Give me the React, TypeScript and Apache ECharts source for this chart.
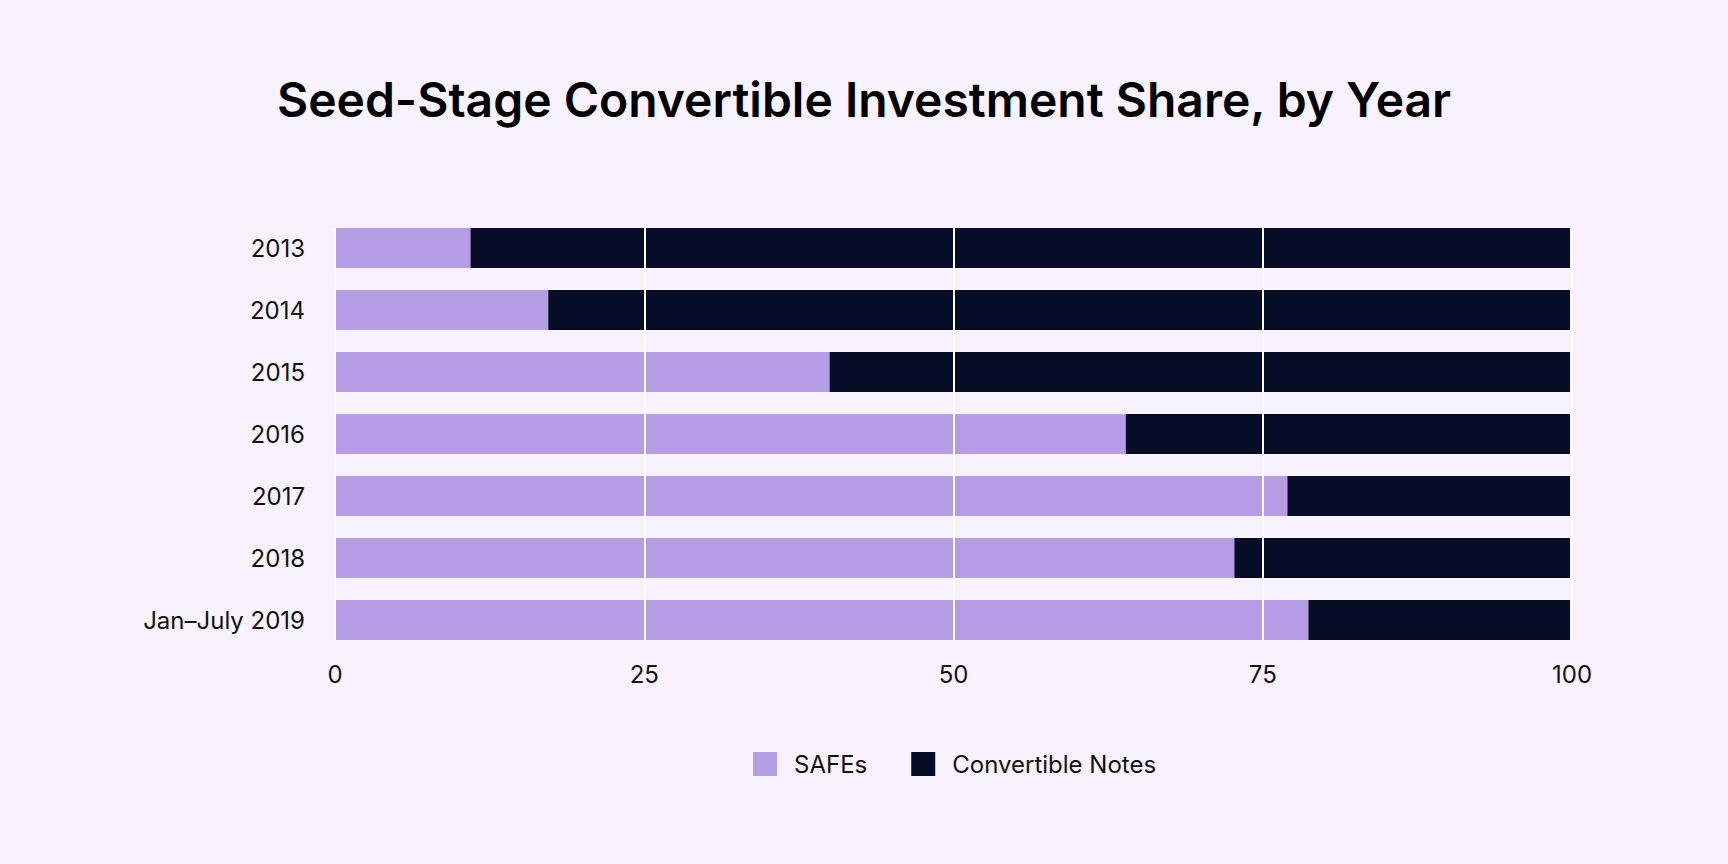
import React, { useEffect, useRef } from 'react';
import * as echarts from 'echarts';

const years = ['2013', '2014', '2015', '2016', '2017', '2018', 'Jan–July 2019'];
const safes = [10.9, 17.2, 40.0, 64.0, 77.1, 72.8, 78.8];
const notes = [89.1, 82.8, 60.0, 36.0, 22.9, 27.2, 21.2];
const seriesNames = ['SAFEs', 'Convertible Notes'];
const seriesColors = ['#b49de4', '#080d27'];

const FONT = 'Inter';
const BG = '#f7f2fe';

const App: React.FC = () => {
  const chartRef = useRef<HTMLDivElement>(null);

  useEffect(() => {
    document.body.style.margin = '0';
    if (!chartRef.current) return;
    const chart = echarts.init(chartRef.current, undefined, { renderer: 'svg' });

    const option: echarts.EChartsOption = {
      animation: false,
      backgroundColor: BG,
      textStyle: { fontFamily: FONT },
      title: {
        text: 'Seed-Stage Convertible Investment Share, by Year',
        left: 'center',
        top: 70,
        textStyle: { fontFamily: FONT, fontSize: 48, fontWeight: 600, color: '#000' }
      },
      legend: {
        left: 748,
        top: 747,
        itemWidth: 24,
        itemHeight: 24,
        itemGap: 44,
        icon: 'rect',
        textStyle: { fontFamily: FONT, fontSize: 24, color: '#111', padding: [0, 0, 0, 12] },
        data: seriesNames
      },
      grid: [
        // bars
        { left: 336, width: 1234, top: 217, height: 434 },
        // overlay for the white gridlines and value labels
        { left: 335, width: 1237, top: 228, height: 412 }
      ],
      xAxis: [
        {
          type: 'value',
          gridIndex: 0,
          min: 0,
          max: 100,
          interval: 25,
          axisLabel: { show: false },
          axisLine: { show: false },
          axisTick: { show: false },
          splitLine: { show: false }
        },
        {
          type: 'value',
          gridIndex: 1,
          min: 0,
          max: 100,
          interval: 25,
          z: 10,
          axisLine: { show: false },
          axisTick: { show: false },
          axisLabel: { fontFamily: FONT, fontSize: 24, color: '#111', margin: 22 },
          splitLine: { show: true, lineStyle: { color: '#ffffff', width: 2 } }
        }
      ],
      yAxis: [
        {
          type: 'category',
          gridIndex: 0,
          data: years,
          inverse: true,
          axisLine: { show: false },
          axisTick: { show: false },
          axisLabel: { fontFamily: FONT, fontSize: 24, color: '#111', margin: 31 }
        },
        {
          type: 'value',
          gridIndex: 1,
          min: 0,
          max: 1,
          show: false
        }
      ],
      series: [
        {
          name: seriesNames[0],
          type: 'bar',
          stack: 'total',
          xAxisIndex: 0,
          yAxisIndex: 0,
          barWidth: 40,
          itemStyle: { color: seriesColors[0] },
          data: safes
        },
        {
          name: seriesNames[1],
          type: 'bar',
          stack: 'total',
          xAxisIndex: 0,
          yAxisIndex: 0,
          barWidth: 40,
          itemStyle: { color: seriesColors[1] },
          data: notes
        }
      ]
    };

    chart.setOption(option);
    return () => {
      chart.dispose();
    };
  }, []);

  return <div ref={chartRef} style={{ width: 1728, height: 864 }} />;
};

export default App;
